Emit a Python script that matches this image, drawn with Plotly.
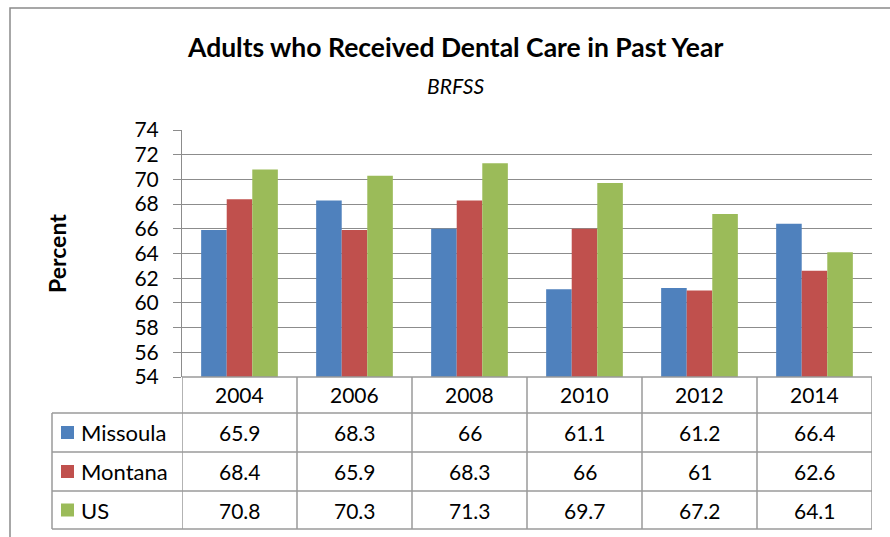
import plotly.graph_objects as go

years = ["2004", "2006", "2008", "2010", "2012", "2014"]
series_names = ["Missoula", "Montana", "US"]
missoula = [65.9, 68.3, 66, 61.1, 61.2, 66.4]
montana = [68.4, 65.9, 68.3, 66, 61, 62.6]
us = [70.8, 70.3, 71.3, 69.7, 67.2, 64.1]
colors = ["#4F81BD", "#C0504D", "#9BBB59"]
y_ticks = [54, 56, 58, 60, 62, 64, 66, 68, 70, 72, 74]

W, H = 890, 537
FONT = "Lato"
GRID = "#8c8c8c"
TBL = "#9a9a9a"


def px(x):
    return x / W


def py(y):
    return 1 - y / H


fig = go.Figure()
for name, vals, col in zip(series_names, [missoula, montana, us], colors):
    fig.add_trace(go.Bar(x=years, y=vals, name=name, marker=dict(color=col, line=dict(width=0))))

plot_l, plot_r, plot_t, plot_b = 182, 872, 130, 377

fig.update_layout(
    width=W, height=H,
    margin=dict(l=0, r=0, t=0, b=0, pad=0, autoexpand=False),
    paper_bgcolor="white", plot_bgcolor="white",
    showlegend=False,
    barmode="group", bargap=0.333, bargroupgap=0,
    font=dict(family=FONT, color="black"),
    xaxis=dict(domain=[px(plot_l), px(plot_r)], range=[-0.5, 5.5], showticklabels=False, automargin=False,
               showgrid=False, zeroline=False, showline=False, ticks=""),
    yaxis=dict(domain=[py(plot_b), py(plot_t)], range=[54, 74], tickvals=y_ticks, automargin=False,
               showgrid=True, gridcolor=GRID, gridwidth=1, zeroline=False,
               showline=True, linecolor=GRID, linewidth=1,
               ticks="outside", ticklen=8, tickcolor=GRID, tickwidth=1,
               ticklabelstandoff=10,
               tickfont=dict(family=FONT, size=21, color="black")),
)

shapes = []
shapes.append(dict(type="rect", xref="paper", yref="paper", x0=px(10), x1=px(905), y0=py(552), y1=py(8),
                   line=dict(color="#8a8a8a", width=1.5), fillcolor="rgba(0,0,0,0)", layer="below"))

row_lines = [413, 452, 491, 529]
tbl_left = 52
shapes.append(dict(type="line", xref="paper", yref="paper", x0=px(plot_l), x1=px(plot_r), y0=py(377), y1=py(377),
                   line=dict(color=TBL, width=1.5)))
for yl in row_lines:
    shapes.append(dict(type="line", xref="paper", yref="paper", x0=px(tbl_left), x1=px(plot_r), y0=py(yl), y1=py(yl),
                       line=dict(color=TBL, width=1.5)))
for i in range(len(years) + 1):
    shapes.append(dict(type="line", xref="x", yref="paper", x0=i - 0.5, x1=i - 0.5, y0=py(377), y1=py(529),
                       line=dict(color=TBL, width=1.5)))
shapes.append(dict(type="line", xref="paper", yref="paper", x0=px(tbl_left), x1=px(tbl_left), y0=py(413), y1=py(529),
                   line=dict(color=TBL, width=1.5)))

annotations = []
header_c = (377 + 413) / 2
row_c = [(row_lines[k] + row_lines[k + 1]) / 2 for k in range(3)]
for i, yr in enumerate(years):
    annotations.append(dict(xref="x", yref="paper", x=i, y=py(header_c), text=yr, showarrow=False,
                            font=dict(family=FONT, size=21, color="black"), xanchor="center", yanchor="middle"))
for r, (name, vals, col) in enumerate(zip(series_names, [missoula, montana, us], colors)):
    yc = row_c[r]
    shapes.append(dict(type="rect", xref="paper", yref="paper", x0=px(61), x1=px(74), y0=py(yc + 6.5), y1=py(yc - 6.5),
                       line=dict(width=0), fillcolor=col))
    annotations.append(dict(xref="paper", yref="paper", x=px(79), y=py(yc), text=name, showarrow=False,
                            font=dict(family=FONT, size=22, color="black"), xanchor="left", yanchor="middle"))
    for i, v in enumerate(vals):
        annotations.append(dict(xref="x", yref="paper", x=i, y=py(yc), text=f"{v:g}", showarrow=False,
                                font=dict(family=FONT, size=21, color="black"), xanchor="center", yanchor="middle"))

annotations.append(dict(xref="paper", yref="paper", x=px(455), y=py(47),
                        text="<b>Adults who Received Dental Care in Past Year</b>", showarrow=False,
                        font=dict(family=FONT, size=26.5, color="black"), xanchor="center", yanchor="middle"))
annotations.append(dict(xref="paper", yref="paper", x=px(455), y=py(85),
                        text="<i>BRFSS</i>", showarrow=False,
                        font=dict(family=FONT, size=21, color="black"), xanchor="center", yanchor="middle"))
annotations.append(dict(xref="paper", yref="paper", x=px(57), y=py(253),
                        text="<b>Percent</b>", showarrow=False, textangle=-90,
                        font=dict(family=FONT, size=23, color="black"), xanchor="center", yanchor="middle"))

fig.update_layout(shapes=shapes, annotations=annotations)
fig.write_html("out.html", config={"displayModeBar": False},
               post_script="document.body.style.margin='0';document.body.style.overflow='hidden';")
